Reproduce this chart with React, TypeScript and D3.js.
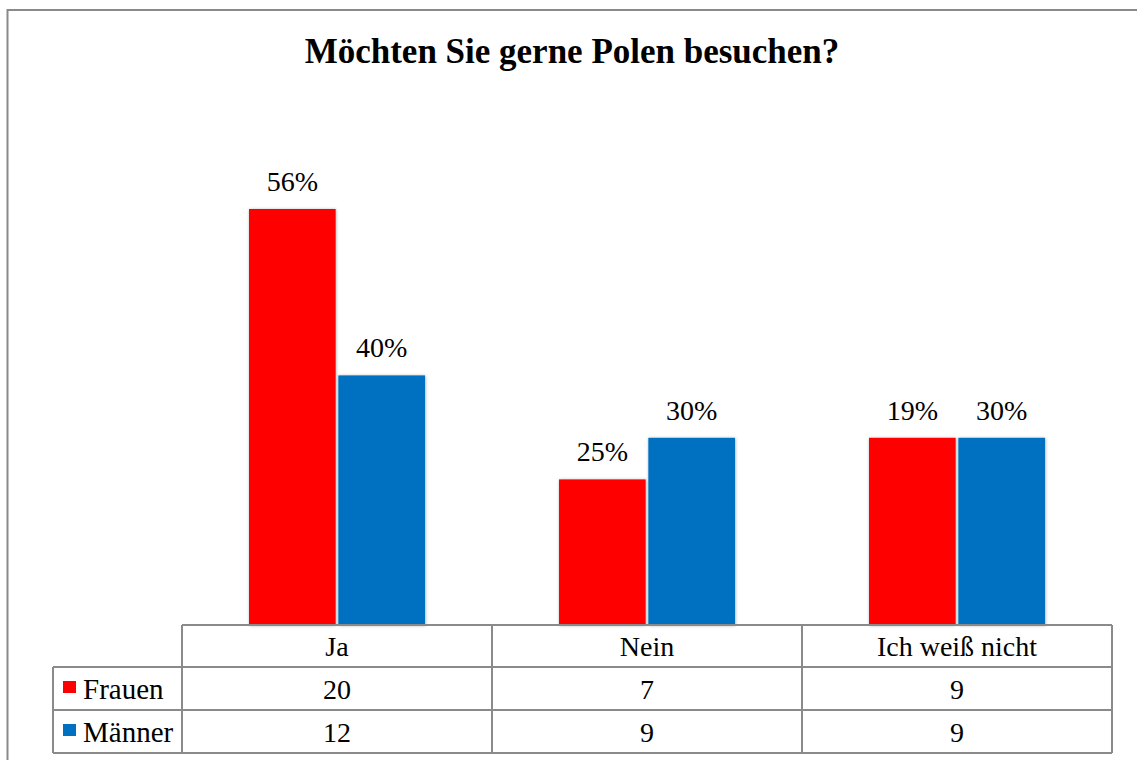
import React from "react";
import * as d3 from "d3";

const TITLE = "Möchten Sie gerne Polen besuchen?";
const categories = ["Ja", "Nein", "Ich weiß nicht"];
const seriesNames = ["Frauen", "Männer"];
const seriesColors = ["#ff0000", "#0070c0"];
const frauenCounts = [20, 7, 9];
const maennerCounts = [12, 9, 9];
const frauenPct = [56, 25, 19];
const maennerPct = [40, 30, 30];

const W = 1137;
const H = 760;
const FONT = "'Liberation Serif', 'Times New Roman', serif";
const GRID = "#8a8a8a";

export default function App() {
  const counts = [frauenCounts, maennerCounts];
  const pcts = [frauenPct, maennerPct];

  const tableLeft = 182;
  const tableRight = 1112;
  const legendLeft = 53;
  const baseY = 625;
  const row1 = 667;
  const row2 = 710;
  const tableBottom = 753;

  const x = d3.scaleBand<string>().domain(categories).range([tableLeft, tableRight]).padding(0);
  const xi = d3
    .scaleBand<string>()
    .domain(seriesNames)
    .range([0, x.bandwidth()])
    .paddingInner(0.03)
    .paddingOuter(0.75);
  const y = d3.scaleLinear().domain([0, 25]).range([baseY, baseY - 520]);

  const colEdges = [...categories.map((c) => x(c) as number), tableRight];

  return (
    <svg
      width={W}
      height={H}
      style={{ position: "absolute", left: 0, top: 0, background: "#fff" }}
      fontFamily={FONT}
    >
      <defs>
        <filter id="shadow" x="-10%" y="-10%" width="120%" height="120%">
          <feDropShadow dx="0.5" dy="0.5" stdDeviation="1.6" floodColor="#000" floodOpacity="0.35" />
        </filter>
      </defs>
      {/* outer border (extends beyond view right/bottom) */}
      <rect x={7.5} y={10} width={W + 20} height={H + 20} fill="#fff" stroke={GRID} strokeWidth={2} />

      <text x={572} y={63} textAnchor="middle" fontSize={35} fontWeight="bold" fill="#000">
        {TITLE}
      </text>

      {/* bars */}
      {seriesNames.map((s, si) => (
        <g key={s}>
          {categories.map((c, ci) => {
            const bx = (x(c) as number) + (xi(s) as number);
            const by = y(counts[si][ci]);
            return (
              <g key={c}>
                <rect
                  x={bx}
                  y={by}
                  width={xi.bandwidth()}
                  height={baseY - by}
                  fill={seriesColors[si]}
                  filter="url(#shadow)"
                />
                <text
                  x={bx + xi.bandwidth() / 2}
                  y={by - 18}
                  textAnchor="middle"
                  fontSize={28}
                  fill="#000"
                >
                  {pcts[si][ci]}%
                </text>
              </g>
            );
          })}
        </g>
      ))}

      {/* data table */}
      <g stroke={GRID} strokeWidth={2} fill="none">
        <line x1={tableLeft} x2={tableRight} y1={baseY} y2={baseY} />
        <line x1={legendLeft} x2={tableRight} y1={row1} y2={row1} />
        <line x1={legendLeft} x2={tableRight} y1={row2} y2={row2} />
        <line x1={legendLeft} x2={tableRight} y1={tableBottom} y2={tableBottom} />
        <line x1={legendLeft} x2={legendLeft} y1={row1} y2={tableBottom} />
        {colEdges.map((cx, i) => (
          <line key={i} x1={cx} x2={cx} y1={baseY} y2={tableBottom} />
        ))}
      </g>
      {categories.map((c) => (
        <text
          key={c}
          x={(x(c) as number) + x.bandwidth() / 2}
          y={row1 - 11}
          textAnchor="middle"
          fontSize={28}
          fill="#000"
        >
          {c}
        </text>
      ))}
      {seriesNames.map((s, si) => {
        const rowTop = si === 0 ? row1 : row2;
        const rowBottom = si === 0 ? row2 : tableBottom;
        return (
          <g key={s}>
            <rect x={63} y={rowTop + 14} width={13} height={12} fill={seriesColors[si]} />
            <text x={83} y={rowBottom - 11} fontSize={29} fill="#000">
              {s}
            </text>
            {categories.map((c, ci) => (
              <text
                key={c}
                x={(x(c) as number) + x.bandwidth() / 2}
                y={rowBottom - 11}
                textAnchor="middle"
                fontSize={28}
                fill="#000"
              >
                {counts[si][ci]}
              </text>
            ))}
          </g>
        );
      })}
    </svg>
  );
}
